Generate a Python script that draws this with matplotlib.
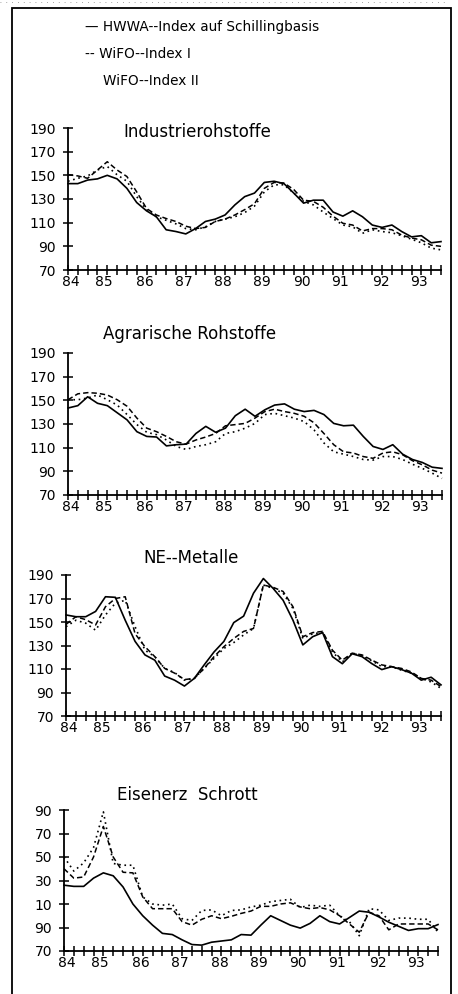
import matplotlib
matplotlib.use("Agg")
import matplotlib.pyplot as plt
from matplotlib.patches import Rectangle
from matplotlib.lines import Line2D

# ---------------- data (quarterly, 1984Q1 .. 1993Q3) ----------------
years = ["84", "85", "86", "87", "88", "89", "90", "91", "92", "93"]
year_label_pos = [0.3, 3.6, 7.8, 11.8, 15.8, 19.8, 23.8, 27.7, 31.9, 35.8]
yticks = [70, 90, 110, 130, 150, 170, 190]
ytick_labels = ["70", "90", "110", "130", "150", "170", "190"]
ytick_labels_eis = ["70", "90", "10", "30", "50", "70", "90"]

series_names = ["HWWA--Index auf Schillingbasis", "WiFO--Index I", "WiFO--Index II"]
titles = ["Industrierohstoffe", "Agrarische Rohstoffe", "NE--Metalle", "Eisenerz  Schrott"]

hwwa_ind = [143, 143, 146, 147, 150, 147, 139, 127, 120, 115, 104, 102.5, 100.5, 105, 111, 113,
            116.5, 125, 132, 135, 144, 145, 143, 135, 126.5, 129, 129, 119, 115.5, 120, 115, 108,
            106, 108, 102.5, 98, 99, 93, 94]
wifo1_ind = [150.5, 149.5, 147.5, 154.5, 161.5, 154.5, 149, 136, 122, 116.5, 113.5, 111, 107, 105,
             106, 111, 113, 116.5, 121, 126, 139, 144, 143.5, 138, 129, 128, 123, 115.5, 109.5, 108,
             103, 105, 105, 104, 99.5, 97, 95.5, 91, 90]
wifo2_ind = [145, 147.5, 149.5, 154.5, 157.5, 150.5, 145, 132, 121, 115, 112, 109, 105, 104, 106.5,
             111, 113, 115, 118.5, 124, 136, 142, 142, 135, 128, 125, 119, 113.5, 108, 106.5, 101,
             104, 102.5, 101.5, 99, 96, 93, 88.5, 87]

hwwa_agr = [143.5, 145.5, 153, 147.5, 145.5, 139.5, 133.5, 123.5, 119.5, 119, 111.5, 112.5, 113,
            122, 128, 123, 126.5, 137, 142.5, 136.5, 142, 146, 147, 142.5, 140.5, 141.5, 138, 130.5,
            128.5, 129, 119.5, 111, 108.5, 112.5, 104.5, 100, 97.5, 93.5, 92.5]
wifo1_agr = [150.5, 155.5, 156.5, 156, 154.5, 150.5, 145, 135, 126.5, 123.5, 119.5, 115, 113, 116.5,
             119, 122, 128.5, 129.5, 130.5, 135, 140.5, 142.5, 140.5, 139, 136.5, 131, 122, 112.5,
             106.5, 105.5, 102.5, 101, 105.5, 106.5, 104, 99, 95.5, 91, 88.5]
wifo2_agr = [150.5, 150.5, 152, 154.5, 150.5, 146, 138, 129.5, 123, 121, 116.5, 111, 108.5, 111,
             112.5, 115, 122, 123.5, 126.5, 130.5, 138, 139, 137, 135, 132, 125, 114, 106.5, 104.5,
             102.5, 100, 99.5, 102.5, 102.5, 100, 96, 92.5, 88.5, 84]

hwwa_ne = [156, 154.5, 154.5, 159, 171.5, 171, 151.5, 133.5, 122, 117.5, 104, 100.5, 95.5, 102,
           113.5, 124.5, 133.5, 149.5, 155, 174.5, 187, 178.5, 168.5, 151.5, 130.5, 137.5, 141,
           120.5, 114.5, 123, 120.5, 114.5, 109.5, 112, 109.5, 106.5, 100.5, 103, 96.5]
wifo1_ne = [148, 154.5, 152, 147.5, 163, 170, 171.5, 140, 129, 120.5, 110.5, 106.5, 101, 102, 110.5,
            120.5, 129, 136, 142, 144.5, 181.5, 179.5, 176, 163, 137.5, 141, 142, 126, 117.5, 123.5,
            122, 117.5, 113.5, 112, 110.5, 107.5, 102, 100.5, 95]
wifo2_ne = [146, 151.5, 149, 143, 156, 166, 168.5, 146, 126, 120.5, 110.5, 107, 100.5, 102, 110.5,
            119, 127.5, 132.5, 139, 144.5, 181.5, 178.5, 174.5, 161.5, 136, 140, 141, 124.5, 116,
            123.5, 121, 117, 112, 112, 109, 106.5, 102, 99, 93.5]

hwwa_eis = [126, 125, 125, 132, 136.5, 134, 124.5, 110, 100, 92, 85, 84, 79.5, 75.5, 75, 77.5, 78.5,
            79.5, 84, 83.5, 92, 100, 96, 92, 89.5, 93.5, 100, 95, 93, 98.5, 104, 103, 99, 94.5, 91,
            87.5, 89, 89, 92.5]
wifo1_eis = [140, 132, 133, 150, 176, 150, 137, 136.5, 116, 106, 106, 106, 95, 92, 97, 100, 97.5,
             99.5, 102, 104, 108, 108, 110, 111, 107.5, 106, 107, 105, 100, 93, 86, 103, 100, 88,
             93, 93, 93, 93, 88]
wifo2_eis = [150, 138, 145, 158, 188.5, 144.5, 143, 143, 116, 110, 109, 110, 97.5, 96, 104.5, 105,
             100, 104.5, 105, 107.5, 109, 112, 113, 114, 107, 109, 108, 109, 100, 95, 83, 106, 105,
             96, 98, 98, 97, 97, 86]

panels = [
    (titles[0], hwwa_ind, wifo1_ind, wifo2_ind, ytick_labels),
    (titles[1], hwwa_agr, wifo1_agr, wifo2_agr, ytick_labels),
    (titles[2], hwwa_ne, wifo1_ne, wifo2_ne, ytick_labels),
    (titles[3], hwwa_eis, wifo1_eis, wifo2_eis, ytick_labels_eis),
]

# ---------------- layout (pixels) ----------------
W, H = 458, 994
DPI = 100
# left px, right px, y(190) px, y(70) px, title x px, title y px
geom = [
    (68, 441, 128, 270, 123, 132),
    (68, 442, 353, 495, 103, 334),
    (66, 441, 575, 716, 143, 558),
    (64, 438, 810, 951, 117, 795),
]

plt.rcParams['font.family'] = ['DejaVu Sans']
fig = plt.figure(figsize=(W / DPI, H / DPI), dpi=DPI)
fig.patch.set_facecolor('white')

def fx(px):
    return px / W

def fy(py):
    return 1 - py / H

# outer frame
fig.add_artist(Rectangle((fx(12), -0.02), fx(451) - fx(12), fy(8) + 0.02,
                         transform=fig.transFigure, fill=False, lw=1.3, ec='black'))
# faint scan dots at the very top
fig.add_artist(Line2D([0.0, 0.98], [fy(2), fy(2)], transform=fig.transFigure,
                      color='#888888', lw=0.6, linestyle=(0, (1, 6))))

# legend texts
fig.text(fx(85), fy(27), "— " + series_names[0], fontsize=9.8, va='center', ha='left')
fig.text(fx(85), fy(54), "-- " + series_names[1], fontsize=9.8, va='center', ha='left')
fig.text(fx(103), fy(81), series_names[2], fontsize=9.8, va='center', ha='left')

x = list(range(len(hwwa_ind)))

for (title, s1, s2, s3, ylabels), (L, R, T, B, tx, ty) in zip(panels, geom):
    ax = fig.add_axes([fx(L), fy(B), fx(R) - fx(L), fy(T) - fy(B)])
    ax.set_facecolor('none')
    ax.set_xlim(0, 38)
    ax.set_ylim(70, 190)
    ax.plot(x, s3, color='black', lw=1.2, linestyle=(0, (1, 2.2)), clip_on=False)
    ax.plot(x, s2, color='black', lw=1.1, linestyle=(0, (3.5, 2)), clip_on=False)
    ax.plot(x, s1, color='black', lw=1.2, linestyle='-', clip_on=False)

    for sp in ['top', 'right']:
        ax.spines[sp].set_visible(False)
    for sp in ['left', 'bottom']:
        ax.spines[sp].set_linewidth(1.3)
    ax.set_xticks(x)
    ax.set_xticklabels([])
    ax.set_yticks(yticks)
    ax.set_yticklabels(ylabels, fontsize=10)
    ax.tick_params(axis='x', direction='inout', length=7, width=1.1)
    ax.tick_params(axis='y', direction='inout', length=7, width=1.1, pad=5)
    for p, lab in zip(year_label_pos, years):
        ax.text(p, -0.085, lab, transform=ax.get_xaxis_transform(), fontsize=10,
                ha='center', va='center')
    fig.text(fx(tx), fy(ty), title, fontsize=12, ha='left', va='center')

fig.savefig("out.png", dpi=DPI, facecolor='white')
